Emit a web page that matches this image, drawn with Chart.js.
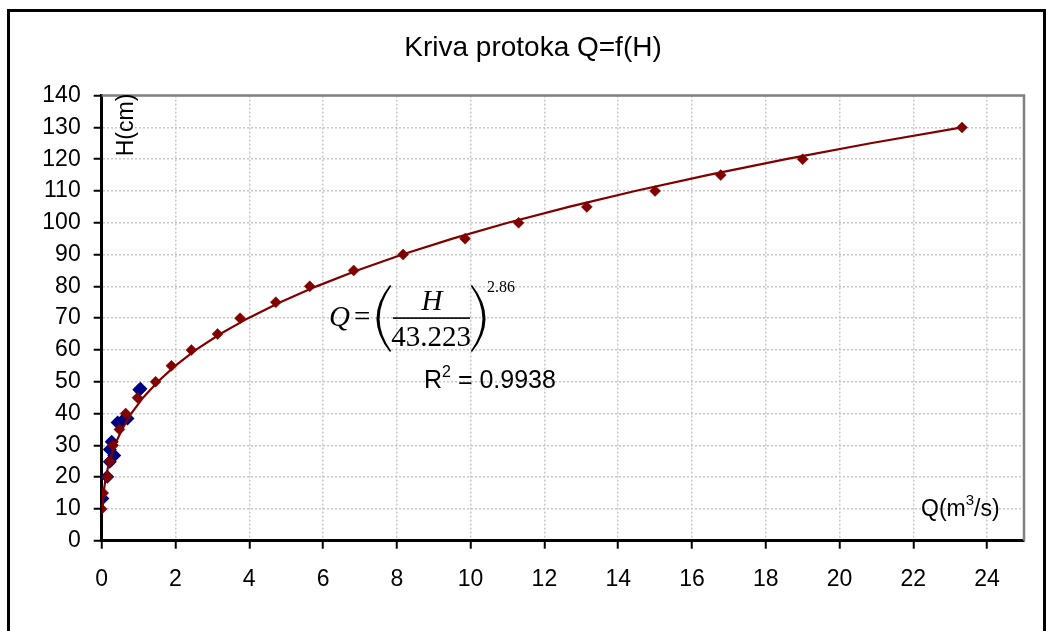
<!DOCTYPE html>
<html>
<head>
<meta charset="utf-8">
<title>Kriva protoka Q=f(H)</title>
<script src="https://cdn.jsdelivr.net/npm/chart.js@4.4.1/dist/chart.umd.min.js"></script>
<style>
  html, body { margin: 0; padding: 0; background: #ffffff; overflow: hidden; }
  canvas { display: block; }
</style>
</head>
<body>
<canvas id="chart" width="1049" height="631"></canvas>
<script>
// Measured discharge Q (m3/s) for each water level H (cm)
const ratedH = [10, 15, 20, 25, 30, 35, 40, 45, 50, 55, 60, 65, 70, 75, 80, 85, 90, 95, 100, 105, 110, 115, 120, 130];
const ratedQ = [0.0, 0.04, 0.16, 0.22, 0.31, 0.48, 0.65, 0.97, 1.46, 1.89, 2.43, 3.14, 3.75, 4.72, 5.64, 6.83, 8.17, 9.85, 11.3, 13.15, 15.0, 16.78, 19.0, 23.32];

// Field gaugings at low water
const fieldH = [13.3, 20.1, 24.8, 28.7, 31.1, 26.8, 37.2, 37.7, 38.4, 47.5, 47.8];
const fieldQ = [0.02, 0.15, 0.22, 0.22, 0.27, 0.34, 0.43, 0.56, 0.70, 1.02, 1.05];

// Power trend line Q = (H / 43.223)^2.86
const trendH = [10, 15, 20, 25, 30, 35, 40, 45, 50, 55, 60, 65, 70, 75, 80, 85, 90, 95, 100, 105, 110, 115, 120, 125, 130];
const trendQ = [0.02, 0.05, 0.11, 0.21, 0.35, 0.55, 0.80, 1.12, 1.52, 1.99, 2.55, 3.21, 3.97, 4.84, 5.82, 6.92, 8.15, 9.51, 11.01, 12.66, 14.46, 16.42, 18.55, 20.84, 23.32];

// Axis ticks
const qTicks = [0, 2, 4, 6, 8, 10, 12, 14, 16, 18, 20, 22, 24];
const hTicks = [0, 10, 20, 30, 40, 50, 60, 70, 80, 90, 100, 110, 120, 130, 140];

const SANS = "'Liberation Sans', Arial, sans-serif";
const SERIF = "'Liberation Serif', 'Times New Roman', serif";
const RED = '#800000';
const BLUE = '#000080';

const pairs = (xs, ys) => xs.map((x, i) => ({ x: x, y: ys[i] }));

// Frame, plot border and trend-line annotation
const decorations = {
  id: 'decorations',
  beforeDraw(chart) {
    const ctx = chart.ctx;
    ctx.save();
    ctx.fillStyle = '#ffffff';
    ctx.fillRect(0, 0, chart.width, chart.height);
    ctx.restore();
  },
  afterDraw(chart) {
    const ctx = chart.ctx;
    const a = chart.chartArea;
    ctx.save();

    // plot area top and right edges
    ctx.strokeStyle = '#808080';
    ctx.lineWidth = 2.5;
    ctx.beginPath();
    ctx.moveTo(a.left, a.top);
    ctx.lineTo(a.right, a.top);
    ctx.lineTo(a.right, a.bottom);
    ctx.stroke();

    // outer chart frame
    ctx.strokeStyle = '#000000';
    ctx.lineWidth = 3;
    ctx.strokeRect(8.5, 10.5, 1036, 700);

    // axis captions
    ctx.fillStyle = '#000000';
    ctx.font = '23px ' + SANS;
    ctx.save();
    ctx.translate(127, 125);
    ctx.rotate(-Math.PI / 2);
    ctx.textAlign = 'center';
    ctx.textBaseline = 'middle';
    ctx.fillText('H(cm)', 0, 0);
    ctx.restore();

    ctx.textAlign = 'left';
    ctx.textBaseline = 'alphabetic';
    let x = 921;
    ctx.font = '23px ' + SANS;
    ctx.fillText('Q(m', x, 516);
    x += ctx.measureText('Q(m').width;
    ctx.font = '15px ' + SANS;
    ctx.fillText('3', x, 505);
    x += ctx.measureText('3').width;
    ctx.font = '23px ' + SANS;
    ctx.fillText('/s)', x, 516);

    // equation of the trend line
    ctx.font = 'italic 29px ' + SERIF;
    ctx.fillText('Q', 329, 326);
    ctx.font = '29px ' + SERIF;
    ctx.fillText('=', 354, 326);

    // tall parentheses
    ctx.beginPath();
    ctx.moveTo(390, 285);
    ctx.quadraticCurveTo(363, 318.5, 390, 352);
    ctx.lineTo(391.2, 351);
    ctx.quadraticCurveTo(368, 318.5, 391.2, 286);
    ctx.closePath();
    ctx.fill();
    ctx.beginPath();
    ctx.moveTo(472, 285);
    ctx.quadraticCurveTo(499, 318.5, 472, 352);
    ctx.lineTo(470.8, 351);
    ctx.quadraticCurveTo(494, 318.5, 470.8, 286);
    ctx.closePath();
    ctx.fill();

    ctx.textAlign = 'center';
    ctx.font = 'italic 29px ' + SERIF;
    ctx.fillText('H', 432, 310);
    ctx.fillRect(393, 317.3, 77, 1.6);
    ctx.font = '29px ' + SERIF;
    ctx.fillText('43.223', 431, 346);
    ctx.textAlign = 'left';
    ctx.font = '16px ' + SERIF;
    ctx.fillText('2.86', 487, 292);

    // coefficient of determination
    x = 424;
    ctx.font = '25px ' + SANS;
    ctx.fillText('R', x, 388);
    x += ctx.measureText('R').width;
    ctx.font = '16px ' + SANS;
    ctx.fillText('2', x, 377);
    x += ctx.measureText('2').width;
    ctx.font = '25px ' + SANS;
    ctx.fillText(' = 0.9938', x, 388);

    ctx.restore();
  }
};

new Chart(document.getElementById('chart'), {
  type: 'scatter',
  data: {
    datasets: [
      {
        label: 'Mjerenja',
        data: pairs(fieldQ, fieldH),
        pointStyle: 'rectRot',
        pointRadius: 7,
        backgroundColor: BLUE,
        borderColor: BLUE,
        borderWidth: 0,
        order: 3
      },
      {
        label: 'Trend',
        type: 'line',
        data: pairs(trendQ, trendH),
        borderColor: RED,
        borderWidth: 2.2,
        pointRadius: 0,
        fill: false,
        tension: 0,
        order: 2
      },
      {
        label: 'Kriva protoka',
        data: pairs(ratedQ, ratedH),
        pointStyle: 'rectRot',
        pointRadius: 5.5,
        backgroundColor: RED,
        borderColor: RED,
        borderWidth: 0.5,
        order: 1
      }
    ]
  },
  options: {
    responsive: false,
    animation: false,
    devicePixelRatio: 1,
    layout: { padding: { left: 42, right: 25, top: 0, bottom: 0 } },
    plugins: {
      legend: { display: false },
      tooltip: { enabled: false },
      title: {
        display: true,
        text: 'Kriva protoka Q=f(H)',
        color: '#000000',
        font: { family: SANS, size: 28, weight: 'normal' },
        padding: { top: 31, bottom: 31 }
      }
    },
    scales: {
      x: {
        type: 'linear',
        min: 0,
        max: 25,
        afterBuildTicks(scale) { scale.ticks = qTicks.map(v => ({ value: v })); },
        afterFit(scale) { scale.height = 90.3; },
        ticks: {
          color: '#000000',
          font: { family: SANS, size: 23 },
          padding: 17,
          maxRotation: 0,
          autoSkip: false
        },
        grid: {
          color: '#c8c8c8',
          lineWidth: 1.5,
          tickLength: 8,
          tickColor: '#000000',
          tickWidth: 2,
          tickBorderDash: []
        },
        border: { display: true, color: '#000000', width: 3, dash: [2, 2] }
      },
      y: {
        type: 'linear',
        min: 0,
        max: 140,
        afterBuildTicks(scale) { scale.ticks = hTicks.map(v => ({ value: v })); },
        afterFit(scale) { scale.width = 59.7; },
        ticks: {
          color: '#000000',
          font: { family: SANS, size: 23 },
          padding: 13,
          autoSkip: false
        },
        grid: {
          color: '#c8c8c8',
          lineWidth: 1.5,
          tickLength: 8,
          tickColor: '#000000',
          tickWidth: 2,
          tickBorderDash: []
        },
        border: { display: true, color: '#000000', width: 3, dash: [2, 2] }
      }
    }
  },
  plugins: [decorations]
});
</script>
</body>
</html>
